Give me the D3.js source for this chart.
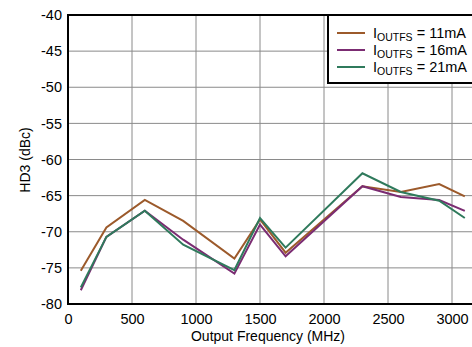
<!DOCTYPE html>
<html>
<head>
<meta charset="utf-8">
<script src="https://cdn.jsdelivr.net/npm/d3@7"></script>
<style>
  body { margin: 0; background: #fff; }
  svg text { font-family: "Liberation Sans", Arial, sans-serif; }
</style>
</head>
<body>
<div id="chart"></div>
<script>
// data
var freqs = [100, 300, 600, 900, 1300, 1500, 1700, 2300, 2600, 2900, 3100];
var hd3_11mA = [-75.4, -69.4, -65.6, -68.5, -73.7, -68.3, -72.9, -63.7, -64.5, -63.4, -65.1];
var hd3_16mA = [-78.1, -70.7, -67.1, -71.1, -75.8, -69.0, -73.4, -63.7, -65.2, -65.6, -67.1];
var hd3_21mA = [-77.7, -70.7, -67.1, -71.8, -75.3, -68.1, -72.2, -61.9, -64.5, -65.7, -68.1];
var seriesNames = ["11mA", "16mA", "21mA"];
var seriesColors = ["#9c5a2b", "#7b2c72", "#2f7a5c"];
var xTicks = [0, 500, 1000, 1500, 2000, 2500, 3000];
var yTicks = [-80, -75, -70, -65, -60, -55, -50, -45, -40];

var width = 472, height = 347;
var svg = d3.select("#chart").append("svg")
  .attr("width", width)
  .attr("height", height);

var x = d3.scaleLinear().domain([0, 3200]).range([68, 477.6]);
var y = d3.scaleLinear().domain([-80, -40]).range([304, 15]);

// grid
svg.append("g").selectAll("line").data(xTicks.slice(1)).enter().append("line")
  .attr("x1", function(d) { return x(d); })
  .attr("x2", function(d) { return x(d); })
  .attr("y1", y(-40)).attr("y2", y(-80))
  .style("stroke", "#8a8a8a").style("stroke-width", 1);
svg.append("g").selectAll("line").data(yTicks.slice(1, -1)).enter().append("line")
  .attr("x1", x(0)).attr("x2", width)
  .attr("y1", function(d) { return y(d); })
  .attr("y2", function(d) { return y(d); })
  .style("stroke", "#8a8a8a").style("stroke-width", 1);

// plain hyphen minus, no thousands comma
var plain = function(d) { return String(d); };

var xAxis = d3.axisBottom(x).tickValues(xTicks).tickSize(0).tickPadding(10).tickFormat(plain);
svg.append("g")
  .attr("transform", "translate(0," + y(-80) + ")")
  .call(xAxis)
  .call(function(g) { g.select(".domain").remove(); })
  .selectAll("text").style("font-size", "14.5px").attr("fill", "#000")
  .style("font-family", "Liberation Sans, Arial, sans-serif");

var yAxis = d3.axisLeft(y).tickValues(yTicks).tickSize(0).tickPadding(6).tickFormat(plain);
svg.append("g")
  .attr("transform", "translate(" + x(0) + ",0)")
  .call(yAxis)
  .call(function(g) { g.select(".domain").remove(); })
  .selectAll("text").style("font-size", "14.5px").attr("fill", "#000")
  .style("font-family", "Liberation Sans, Arial, sans-serif");

// lines
var allSeries = [hd3_11mA, hd3_16mA, hd3_21mA];
var line = d3.line()
  .x(function(d, i) { return x(freqs[i]); })
  .y(function(d) { return y(d); });

svg.append("g").selectAll("path").data(allSeries).enter().append("path")
  .attr("d", line)
  .style("fill", "none")
  .style("stroke", function(d, i) { return seriesColors[i]; })
  .style("stroke-width", 2)
  .style("stroke-linejoin", "miter");

// frame
svg.append("rect")
  .attr("x", x(0)).attr("y", y(-40))
  .attr("width", x(3200) - x(0)).attr("height", y(-80) - y(-40))
  .style("fill", "none").style("stroke", "#000").style("stroke-width", 2);

// legend
var legend = svg.append("g");
legend.append("rect")
  .attr("x", 328).attr("y", 15)
  .attr("width", 160).attr("height", 68)
  .style("fill", "#fff").style("stroke", "#000").style("stroke-width", 2);

var rows = legend.selectAll("g.row").data(seriesNames).enter().append("g")
  .attr("class", "row")
  .attr("transform", function(d, i) { return "translate(0," + (33 + i * 17) + ")"; });
rows.append("line")
  .attr("x1", 337).attr("x2", 365).attr("y1", 0).attr("y2", 0)
  .style("stroke", function(d, i) { return seriesColors[i]; })
  .style("stroke-width", 2);
var lt = rows.append("text")
  .attr("x", 373).attr("y", 5)
  .style("font-size", "14.5px");
lt.append("tspan").text("I");
lt.append("tspan").attr("dy", 3).style("font-size", "10.5px").text("OUTFS");
lt.append("tspan").attr("dy", -3).text(function(d) { return " = " + d; });

// axis titles
svg.append("text")
  .attr("text-anchor", "middle")
  .attr("x", 268).attr("y", 341)
  .style("font-size", "14px")
  .text("Output Frequency (MHz)");
svg.append("text")
  .attr("text-anchor", "middle")
  .attr("transform", "translate(30," + 160 + ")rotate(-90)")
  .style("font-size", "14px")
  .text("HD3 (dBc)");
</script>
</body>
</html>
